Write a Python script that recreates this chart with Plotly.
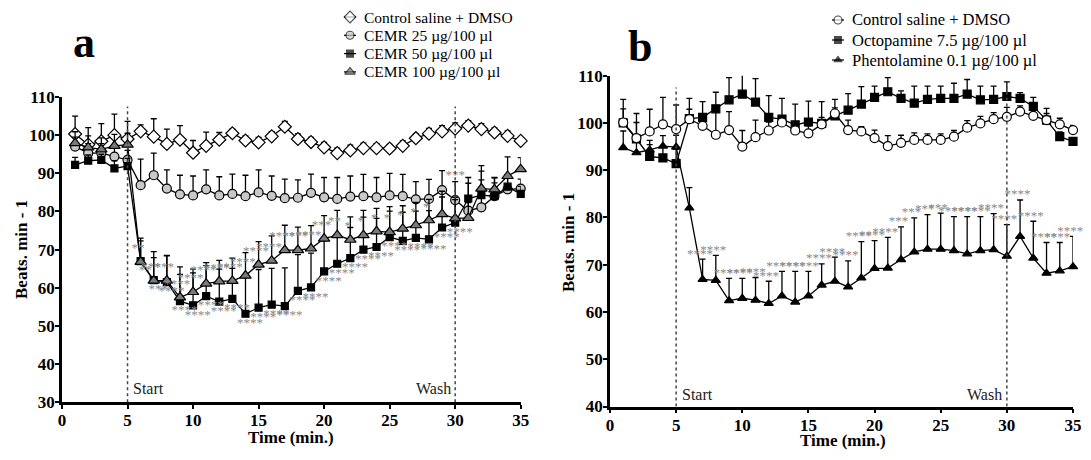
import plotly.graph_objects as go

# ---------------- data ----------------
time_min = list(range(1, 36))
events = [5, 30]
event_labels = ["Start", "Wash"]

# Panel a
a_ctrl = [100.3, 97.5, 98.4, 100.0, 99.0, 101.0, 99.6, 97.7, 98.8, 95.4, 97.2, 98.8, 100.5, 98.6, 98.1,
          99.7, 102.2, 99.0, 98.2, 96.8, 95.3, 96.0, 96.6, 96.6, 96.5, 97.2, 99.2, 100.4, 101.0, 101.7,
          102.5, 101.6, 100.7, 99.8, 98.5]
a_ctrl_err = [4.7, 4.5, 4.6, 5.5, 4.6, 1.7, 4.7, 3.9, 3.7, 3.2, 3.6, 1.9, 1.1, 1.2, 1.3, 1.2, 1.4, 1.3,
              1.2, 1.3, 1.3, 1.4, 1.3, 1.2, 1.1, 1.3, 1.2, 1.4, 1.5, 1.5, 1.3, 1.4, 1.2, 1.3, 0.8]
a_25 = [97.0, 95.3, 95.3, 94.4, 93.5, 86.9, 89.5, 86.0, 84.5, 84.2, 85.8, 84.2, 84.6, 84.0, 85.0,
        84.1, 83.5, 83.6, 84.9, 83.7, 83.3, 83.9, 84.0, 83.7, 84.2, 84.0, 83.2, 83.3, 85.6, 83.0,
        80.2, 81.1, 84.0, 85.8, 86.0]
a_25_err = [2.5, 2.5, 2.5, 2.5, 2.5, 6.8, 5.8, 4.9, 5.0, 5.1, 5.1, 4.9, 5.2, 5.5, 5.9, 5.2, 5.0, 4.7,
            4.9, 5.2, 5.6, 5.4, 5.7, 5.2, 5.8, 5.7, 4.6, 5.1, 5.1, 4.8, 8.7, 9.5, 4.9, 3.0, 2.5]
a_50 = [92.2, 93.3, 93.5, 91.3, 91.9, 67.0, 62.0, 61.5, 56.5, 55.4, 57.8, 56.4, 57.1, 53.2, 54.8,
        55.6, 55.2, 59.2, 60.1, 64.3, 66.3, 67.8, 70.0, 70.7, 73.3, 72.3, 73.1, 72.7, 75.8, 77.1,
        83.4, 84.3, 84.0, 86.5, 84.6]
a_50_err = [2.0, 1.5, 1.5, 2.0, 2.0, 6.0, 7.5, 7.0, 9.0, 8.5, 8.0, 8.5, 8.0, 9.5, 10.0, 9.5, 10.0, 9.5,
            9.0, 8.0, 7.5, 8.0, 8.5, 7.5, 8.0, 7.5, 7.0, 7.5, 8.0, 6.0, 4.0, 4.0, 3.5, 3.0, 2.0]
a_100 = [97.9, 96.8, 96.3, 97.2, 97.5, 66.8, 61.9, 61.9, 57.5, 58.9, 61.1, 61.7, 61.8, 63.2, 66.1,
         67.1, 69.9, 69.9, 70.3, 72.9, 73.8, 72.6, 73.8, 74.8, 74.6, 75.5, 76.4, 77.7, 79.3, 78.2,
         78.3, 86.0, 85.8, 89.3, 91.1]
a_100_err = [3.0, 3.0, 3.0, 3.0, 3.0, 5.5, 6.0, 6.5, 6.0, 6.0, 5.5, 5.5, 6.0, 6.0, 6.0, 6.5, 6.5, 6.0,
             6.0, 6.0, 6.5, 6.0, 6.5, 6.0, 5.5, 6.0, 6.0, 5.5, 6.0, 5.5, 4.0, 6.0, 3.0, 5.0, 3.0]
a_100_sig = [""] * 5 + ["**", "***", "***"] + ["****"] * 11 + ["***", "**"] + ["*"] * 7 + [""] * 7
a_50_sig = [""] * 5 + ["**", "***"] + ["****"] * 23 + [""] * 5
a_25_sig = [""] * 29 + ["***"] + [""] * 5

# Panel b
b_ctrl = [100.1, 96.8, 98.2, 99.7, 98.7, 100.8, 99.4, 97.5, 98.5, 95.0, 97.0, 98.4, 100.1, 98.4, 97.8,
          99.7, 102.0, 98.5, 98.2, 96.8, 95.1, 95.8, 96.4, 96.4, 96.4, 97.1, 99.0, 99.9, 100.8, 101.3,
          102.4, 101.5, 100.6, 99.7, 98.5]
b_ctrl_err = [4.9, 5.2, 4.7, 5.7, 5.1, 4.4, 1.9, 4.9, 3.9, 3.4, 3.6, 1.8, 1.4, 1.6, 1.6, 1.5, 1.2, 2.1,
              1.0, 1.7, 2.2, 1.6, 1.5, 1.3, 1.3, 1.3, 1.5, 1.5, 1.4, 2.0, 1.2, 1.3, 1.4, 1.3, 1.0]
b_oct = [100.0, 96.6, 92.9, 92.6, 91.4, 100.9, 101.2, 103.0, 104.9, 106.1, 104.4, 101.2, 100.8, 99.6,
         100.2, 99.9, 101.5, 102.7, 104.0, 105.4, 106.6, 105.2, 104.2, 105.0, 105.2, 105.2, 106.1,
         104.9, 105.0, 105.6, 105.2, 103.5, 100.6, 97.1, 96.1]
b_oct_err = [3.0, 3.5, 2.5, 2.5, 3.0, 2.0, 3.3, 3.5, 4.7, 4.4, 5.0, 4.6, 4.4, 4.4, 4.4, 4.6, 3.5, 3.5,
             3.7, 2.4, 3.0, 1.6, 3.6, 2.8, 2.6, 3.2, 3.1, 2.9, 2.8, 3.1, 1.2, 1.9, 2.5, 1.0, 0.8]
b_phe = [94.8, 93.7, 94.3, 95.1, 94.9, 82.0, 66.9, 66.7, 62.4, 62.9, 62.5, 61.8, 63.4, 62.1, 63.4,
         65.7, 66.5, 65.3, 67.2, 69.2, 69.3, 71.1, 72.7, 73.3, 73.3, 73.0, 72.3, 73.0, 73.2, 71.8,
         76.0, 71.4, 68.2, 68.7, 69.6]
b_phe_err = [3.5, 2.5, 2.0, 2.2, 2.5, 4.3, 4.3, 5.3, 4.7, 4.2, 4.8, 4.7, 5.2, 6.5, 5.2, 4.5, 5.1, 5.5,
             7.7, 5.9, 6.5, 6.9, 7.2, 7.3, 7.6, 7.2, 7.9, 7.2, 7.6, 6.7, 7.7, 7.8, 6.5, 6.0, 6.4]
b_phe_sig = [""] * 6 + ["****"] * 15 + ["***"] * 4 + ["****"] * 10

# ---------------- layout helpers (screen pixels; page body has an 8px margin) ----------------
OFF = 8
W, H = 1091 - 2 * OFF, 460 - 2 * OFF


def px(sx):
    return (sx - OFF) / W


def py(sy):
    return 1 - (sy - OFF) / H


SERIF = "Liberation Serif"
fig = go.Figure()

# series styles: (name, symbol, size, fill)
style_a = [("Control saline + DMSO", "diamond", 10, "white"),
           ("CEMR 25 µg/100 µl", "circle", 9, "#c8c8c8"),
           ("CEMR 50 µg/100 µl", "square", 7, "black"),
           ("CEMR 100 µg/100 µl", "triangle-up", 10, "#7a7a7a")]
style_b = [("Control saline + DMSO", "circle", 9, "white"),
           ("Octopamine 7.5 µg/100 µl", "square", 8, "black"),
           ("Phentolamine 0.1 µg/100 µl", "triangle-up", 8, "black")]


def add_series(x, y, err, st, xa, ya):
    name, symbol, size, fill = st
    fig.add_trace(go.Scatter(
        x=x, y=y, name=name, mode="lines+markers", xaxis=xa, yaxis=ya, showlegend=False,
        line=dict(color="black", width=1.3),
        marker=dict(symbol=symbol, size=size, color=fill, line=dict(color="black", width=1.2)),
        error_y=dict(type="data", array=err, arrayminus=[0] * len(err), symmetric=False,
                     color="black", thickness=1.3, width=3),
        cliponaxis=False,
    ))


def add_sig(x, y, labels, dx, dy, xa, ya):
    xs, ys, ts = [], [], []
    for xi, yi, lab in zip(x, y, labels):
        if lab:
            xs.append(xi + dx)
            ys.append(yi + dy)
            ts.append(lab)
    fig.add_trace(go.Scatter(x=xs, y=ys, text=ts, mode="text", xaxis=xa, yaxis=ya,
                             textfont=dict(family=SERIF, size=13, color="#8a8a8a"),
                             showlegend=False, hoverinfo="skip", cliponaxis=False))


# panel a
add_series(time_min, a_ctrl, a_ctrl_err, style_a[0], "x", "y")
add_series(time_min, a_25, a_25_err, style_a[1], "x", "y")
add_series(time_min, a_50, a_50_err, style_a[2], "x", "y")
add_series(time_min, a_100, a_100_err, style_a[3], "x", "y")
add_sig(time_min, a_100, a_100_sig, -0.2, 3.4, "x", "y")
add_sig(time_min, a_50, a_50_sig, 0.35, -2.6, "x", "y")
add_sig(time_min, [v + e for v, e in zip(a_25, a_25_err)], a_25_sig, 0, 1.5, "x", "y")

# panel b
add_series(time_min, b_oct, b_oct_err, style_b[1], "x2", "y2")
add_series(time_min, b_phe, b_phe_err, style_b[2], "x2", "y2")
add_series(time_min, b_ctrl, b_ctrl_err, style_b[0], "x2", "y2")
add_sig(time_min, [v + e for v, e in zip(b_phe, b_phe_err)], b_phe_sig, -0.2, 1.0, "x2", "y2")

# ---------------- hand-made legends on an overlay axis in screen pixels ----------------
annotations = []
legend_specs = [(style_a, 350, 17, 18.3, 15.5), (style_b, 838, 20, 20, 16.5)]
for styles, kx, ky0, kdy, fsize in legend_specs:
    for i, (name, symbol, size, fill) in enumerate(styles):
        ky = ky0 + i * kdy
        fig.add_trace(go.Scatter(
            x=[kx - 6, kx, kx + 6], y=[ky, ky, ky], mode="lines+markers", xaxis="x3", yaxis="y3",
            line=dict(color="black", width=1.2),
            marker=dict(symbol=symbol, size=[0, max(size - 1, 7), 0], color=fill,
                        line=dict(color="black", width=1.1)),
            showlegend=False, hoverinfo="skip", cliponaxis=False))
        annotations.append(dict(xref="paper", yref="paper", x=px(kx + 12), y=py(ky), text=name,
                                showarrow=False, xanchor="left", yanchor="middle",
                                font=dict(family=SERIF, size=fsize, color="black")))

# event lines and labels
shapes = []
for xa, ya, y0, ytxt in [("x", "y", 30, 33.5), ("x2", "y2", 40, 42.5)]:
    for ev, lab in zip(events, event_labels):
        shapes.append(dict(type="line", xref=xa, yref=ya, x0=ev, x1=ev, y0=y0, y1=107.5,
                           line=dict(color="#444444", width=1.5, dash="dot")))
        annotations.append(dict(xref=xa, yref=ya, x=ev + (0.3 if lab == "Start" else -0.2), y=ytxt,
                                text=lab, showarrow=False, yanchor="middle",
                                xanchor="left" if lab == "Start" else "right",
                                font=dict(family=SERIF, size=16, color="#222")))

bold = dict(family=SERIF, size=17, color="black", weight="bold")
annotations += [
    dict(xref="paper", yref="paper", x=px(291), y=py(437), text="Time (min.)", showarrow=False,
         xanchor="center", yanchor="middle", font=bold),
    dict(xref="paper", yref="paper", x=px(843), y=py(440), text="Time (min.)", showarrow=False,
         xanchor="center", yanchor="middle", font=bold),
    dict(xref="paper", yref="paper", x=px(21), y=py(250), text="Beats. min - 1", textangle=-90,
         showarrow=False, xanchor="center", yanchor="middle", font=bold),
    dict(xref="paper", yref="paper", x=px(568), y=py(243), text="Beats. min - 1", textangle=-90,
         showarrow=False, xanchor="center", yanchor="middle", font=bold),
    dict(xref="paper", yref="paper", x=px(84), y=py(43), text="a", showarrow=False,
         xanchor="center", yanchor="middle", font=dict(family=SERIF, size=44, color="black", weight="bold")),
    dict(xref="paper", yref="paper", x=px(640), y=py(46), text="b", showarrow=False,
         xanchor="center", yanchor="middle", font=dict(family=SERIF, size=44, color="black", weight="bold")),
]

tickfont = dict(family=SERIF, size=17, color="black", weight="bold")
axis_common = dict(showgrid=False, zeroline=False, showline=True, linecolor="black", linewidth=2.5,
                   ticks="outside", ticklen=4, tickwidth=2, tickcolor="black", tickfont=tickfont,
                   automargin=False, ticklabeloverflow="allow", ticklabelstandoff=-3)

fig.update_layout(
    width=W, height=H,
    margin=dict(l=0, r=0, t=0, b=0),
    paper_bgcolor="white", plot_bgcolor="rgba(0,0,0,0)",
    xaxis=dict(domain=[px(62), px(520.7)], range=[0, 35], dtick=5, anchor="y", **axis_common),
    yaxis=dict(domain=[py(402.3), py(97)], range=[30, 110], dtick=10, anchor="x", **axis_common),
    xaxis2=dict(domain=[px(610), px(1073)], range=[0, 35], dtick=5, anchor="y2", **axis_common),
    yaxis2=dict(domain=[py(406.5), py(75.7)], range=[40, 110], dtick=10, anchor="x2", **axis_common),
    xaxis3=dict(domain=[0, 1], range=[OFF, OFF + W], visible=False, fixedrange=True, anchor="y3"),
    yaxis3=dict(domain=[0, 1], range=[OFF + H, OFF], visible=False, fixedrange=True, anchor="x3"),
    shapes=shapes,
    annotations=annotations,
    showlegend=False,
)

fig.write_html("out.html")
